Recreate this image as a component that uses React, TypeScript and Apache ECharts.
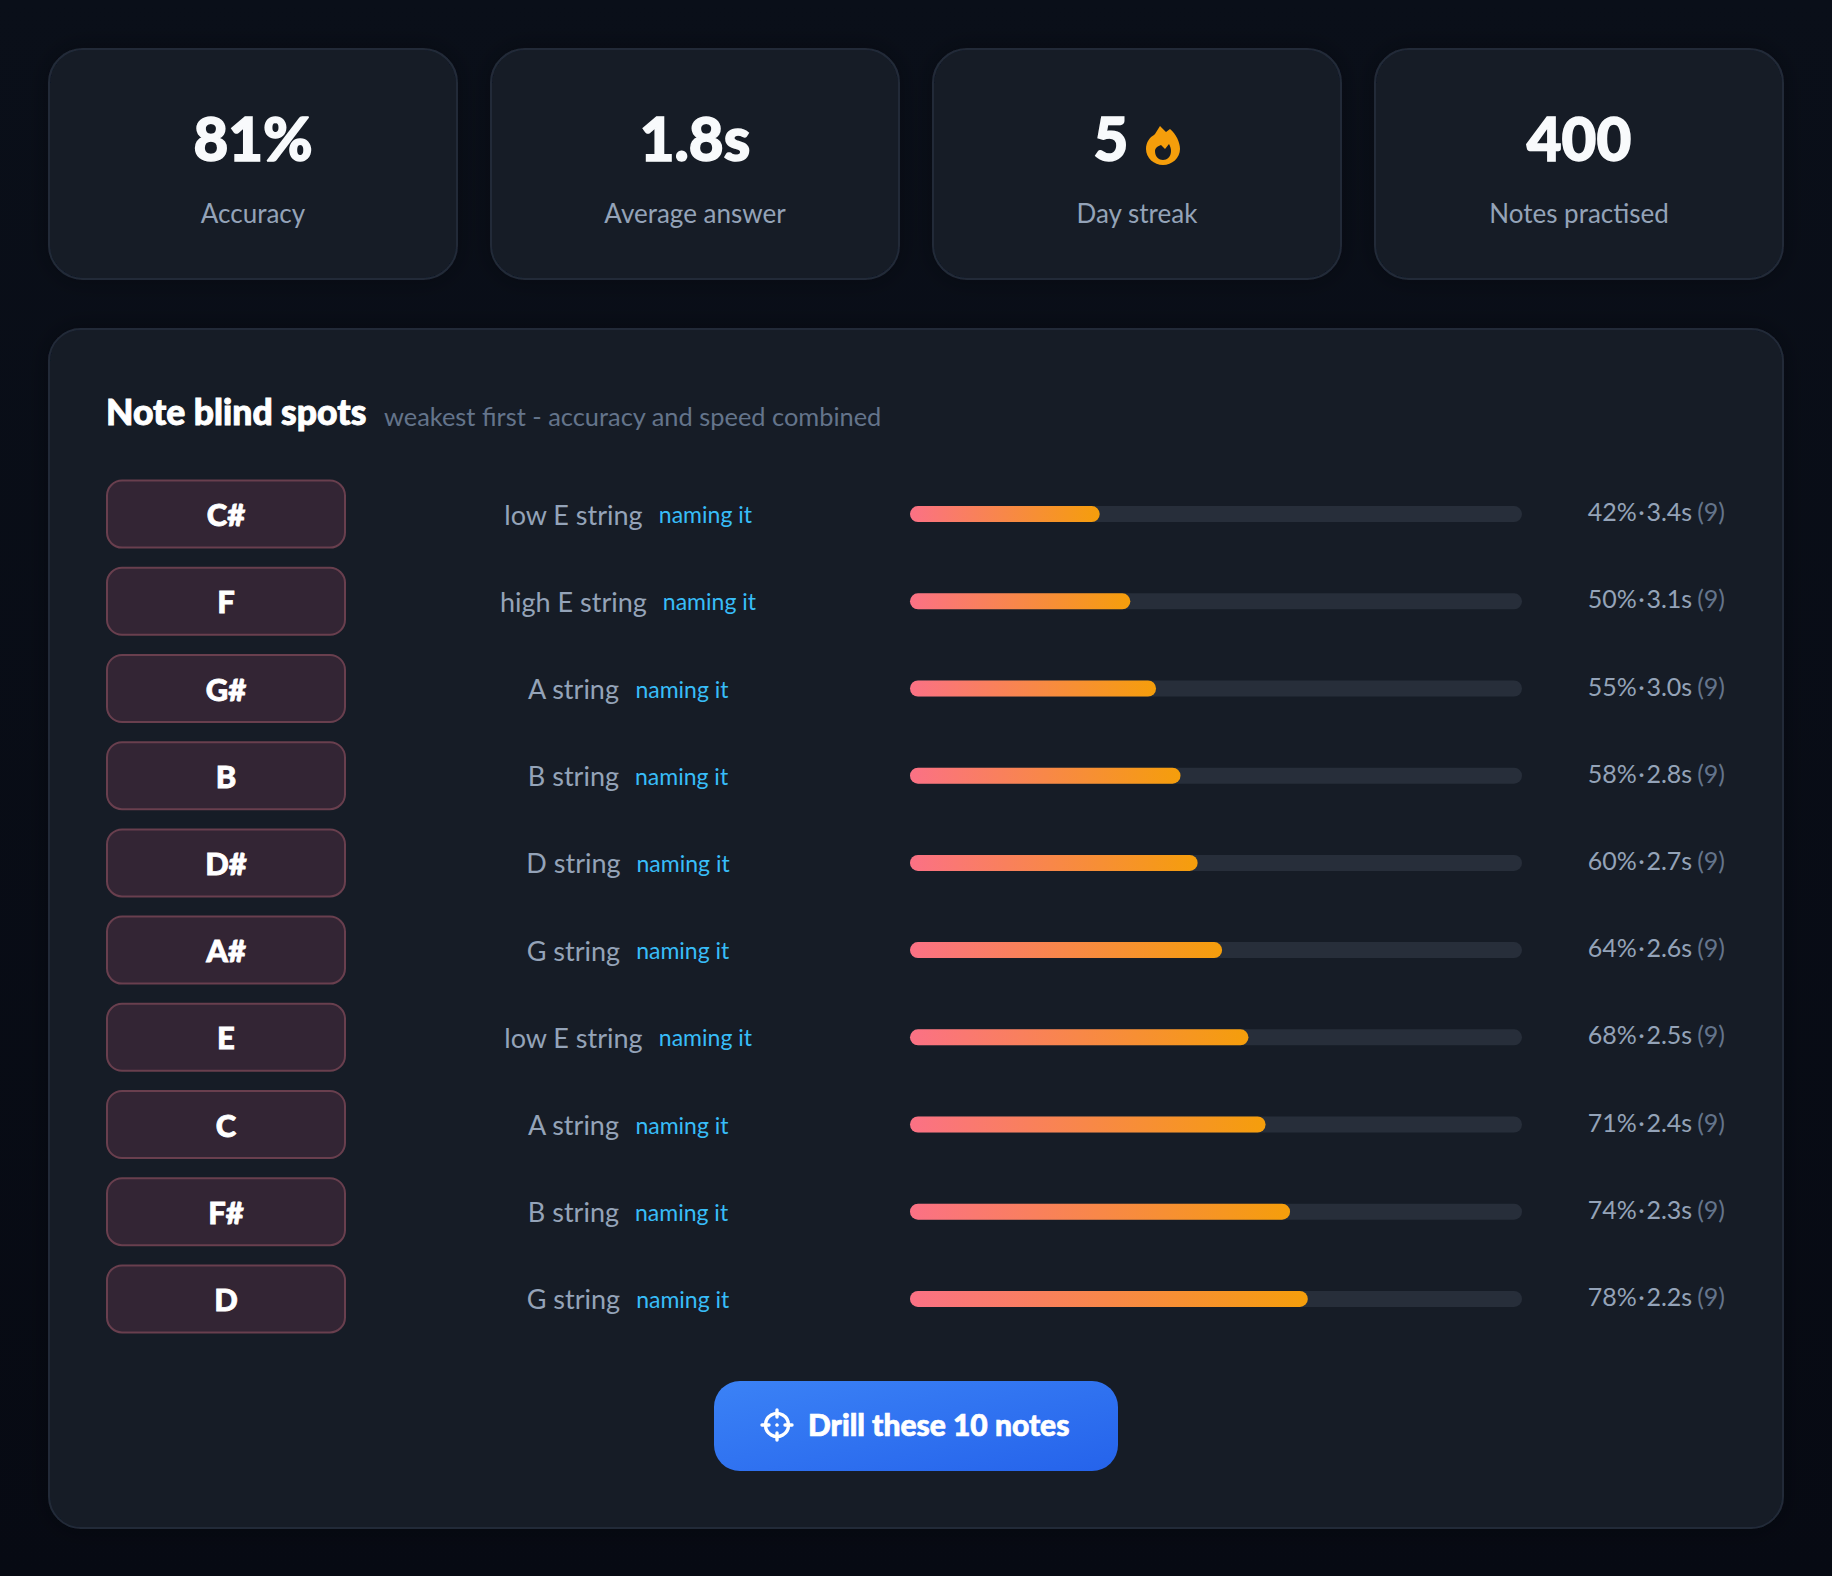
import { useEffect, useRef } from "react";
import * as echarts from "echarts";

const FONT = "Lato, 'Noto Sans', sans-serif";

const statValues = ["81%", "1.8s", "5", "400"];
const statLabels = ["Accuracy", "Average answer", "Day streak", "Notes practised"];

const notes = ["C#", "F", "G#", "B", "D#", "A#", "E", "C", "F#", "D"];
const strings = [
  "low E string",
  "high E string",
  "A string",
  "B string",
  "D string",
  "G string",
  "low E string",
  "A string",
  "B string",
  "G string",
];
const modes = Array(10).fill("naming it");
const barValues = [31, 36, 40.2, 44.2, 47, 51, 55.3, 58.1, 62.1, 65];
const accuracy = [42, 50, 55, 58, 60, 64, 68, 71, 74, 78];
const seconds = [3.4, 3.1, 3.0, 2.8, 2.7, 2.6, 2.5, 2.4, 2.3, 2.2];
const attempts = [9, 9, 9, 9, 9, 9, 9, 9, 9, 9];

const FLAME =
  "M14 0 L20 6 L24 3 C30 8 34 16 34 23 C34 32 26 39 17 39 C8 39 0 32 0 23 C0 16 4 11 8 9 L9 8 Z " +
  "M9 25 C9 31 13 34 17 34 C21 34 25 31 25 25 C25 22 24 20 23 18 L19 23 L15 19 C12 20 9 22 9 25 Z";
echarts.graphic.registerShape("flame", echarts.graphic.extendPath(FLAME, {}) as any);

const CARD_BG = "#121a27";
const CARD_BORDER = "#232b38";

function panelRect(x: number, y: number, width: number, height: number, r: number) {
  return {
    type: "rect",
    z: -1,
    shape: { x, y, width, height, r },
    style: {
      fill: CARD_BG,
      stroke: CARD_BORDER,
      lineWidth: 2,
      shadowBlur: 24,
      shadowColor: "rgba(0,0,0,0.3)",
    },
  };
}

// bold: extra stroke width, Lato stops short of the weight in the picture
function label(text: string, x: number, y: number, size: number, fill: string, bold = 0, align = "center") {
  return {
    type: "text",
    z: 5,
    style: {
      text,
      x,
      y,
      fill,
      fontSize: size,
      fontWeight: bold ? 900 : 400,
      fontFamily: FONT,
      textAlign: align,
      textVerticalAlign: "middle",
      ...(bold ? { stroke: fill, lineWidth: bold } : {}),
    },
  };
}

function buildOption() {
  const cardX = [49, 491, 933, 1375];
  const elements: any[] = [];

  cardX.forEach((x, i) => {
    elements.push(panelRect(x, 49, 408, 230, 34));
    const cx = x + 204;
    // the streak number sits left of its flame
    elements.push(label(statValues[i], i === 2 ? 1111 : cx, 138, 60, "#f8fafc", 1.5));
    elements.push(label(statLabels[i], cx, 213, 26, "#94a3b8"));
  });

  elements.push(panelRect(49, 329, 1734, 1199, 32));
  elements.push({
    type: "flame",
    z: 5,
    x: 1146,
    y: 126,
    style: { fill: "#f59e0b" },
  });

  elements.push(label("Note blind spots", 106, 411, 35.5, "#ffffff", 0.9, "left"));
  elements.push(label("weakest first - accuracy and speed combined", 384, 416, 25.4, "#64748b", 0, "left"));

  // button
  elements.push({
    type: "rect",
    z: 1,
    shape: { x: 714, y: 1381, width: 404, height: 90, r: 26 },
    style: {
      fill: new echarts.graphic.LinearGradient(0, 0, 1, 1, [
        { offset: 0, color: "#3b82f6" },
        { offset: 1, color: "#2563eb" },
      ]),
    },
  });
  const icon = { stroke: "#ffffff", lineWidth: 3.4, fill: "none" };
  elements.push({
    type: "group",
    x: 777,
    y: 1425,
    z: 5,
    children: [
      { type: "circle", z: 5, shape: { cx: 0, cy: 0, r: 11.5 }, style: icon },
      { type: "line", z: 5, shape: { x1: 0, y1: -15, x2: 0, y2: -8 }, style: { ...icon, lineCap: "round" } },
      { type: "line", z: 5, shape: { x1: 0, y1: 8, x2: 0, y2: 15 }, style: { ...icon, lineCap: "round" } },
      { type: "line", z: 5, shape: { x1: -15, y1: 0, x2: -8, y2: 0 }, style: { ...icon, lineCap: "round" } },
      { type: "line", z: 5, shape: { x1: 8, y1: 0, x2: 15, y2: 0 }, style: { ...icon, lineCap: "round" } },
      { type: "circle", z: 5, shape: { cx: 0, cy: 0, r: 1.8 }, style: { fill: "#ffffff" } },
    ],
  });
  elements.push(label("Drill these 10 notes", 808, 1424, 30, "#ffffff", 0.7, "left"));

  const plainAxis = { type: "category", inverse: true, axisLine: { show: false }, axisTick: { show: false }, splitLine: { show: false } };

  return {
    animation: false,
    backgroundColor: new echarts.graphic.LinearGradient(0, 0, 0, 1, [
      { offset: 0, color: "#0a0f19" },
      { offset: 1, color: "#070a13" },
    ]),
    graphic: { elements },
    grid: { left: 910, top: 470.5, width: 612, height: 872 },
    xAxis: { type: "value", min: 0, max: 100, show: false },
    yAxis: [
      {
        ...plainAxis,
        data: notes,
        position: "left",
        axisLabel: {
          interval: 0,
          margin: 684,
          align: "center",
          verticalAlign: "middle",
          width: 236,
          height: 65,
          lineHeight: 65,
          color: "#ffffff",
          fontFamily: FONT,
          fontSize: 31,
          fontWeight: 900,
          textBorderColor: "#ffffff",
          textBorderWidth: 0.8,
          backgroundColor: "#332534",
          borderColor: "#693f4e",
          borderWidth: 2,
          borderRadius: 14,
        },
      },
      {
        ...plainAxis,
        data: strings.map((s, i) => `${s}|${modes[i]}`),
        position: "left",
        axisLabel: {
          interval: 0,
          margin: 282,
          align: "center",
          formatter: (v: string) => {
            const [s, m] = v.split("|");
            return `{s|${s}}{m|${m}}`;
          },
          rich: {
            s: { fontFamily: FONT, fontSize: 27, color: "#94a3b8" },
            m: { fontFamily: FONT, fontSize: 23, color: "#38bdf8", padding: [0, 0, 0, 16] },
          },
        },
      },
      {
        ...plainAxis,
        data: accuracy.map((a, i) => `${a}%|${seconds[i].toFixed(1)}s|${attempts[i]}`),
        position: "right",
        axisLabel: {
          interval: 0,
          margin: 203,
          align: "right",
          formatter: (v: string) => {
            const [a, s, n] = v.split("|");
            return `{v|${a}\u200a·\u200a${s}}{n|(${n})}`;
          },
          rich: {
            v: { fontFamily: FONT, fontSize: 25, color: "#94a3b8", padding: [0, 0, 6, 0] },
            n: { fontFamily: FONT, fontSize: 25, color: "#64748b", padding: [0, 0, 6, 5] },
          },
        },
      },
    ],
    series: [
      {
        type: "bar",
        yAxisIndex: 0,
        data: barValues,
        barWidth: 16,
        showBackground: true,
        backgroundStyle: { color: "#272e3a", borderRadius: 8 },
        itemStyle: {
          borderRadius: 8,
          color: new echarts.graphic.LinearGradient(0, 0, 1, 0, [
            { offset: 0, color: "#fb7185" },
            { offset: 1, color: "#f59e0b" },
          ]),
        },
      },
    ],
  };
}

export default function App() {
  const ref = useRef<HTMLDivElement>(null);

  useEffect(() => {
    if (!ref.current) return;
    document.body.style.margin = "0";
    const chart = echarts.init(ref.current, undefined, { renderer: "svg" });
    chart.setOption(buildOption() as any);
    return () => chart.dispose();
  }, []);

  return <div ref={ref} style={{ width: 1832, height: 1576 }} />;
}
